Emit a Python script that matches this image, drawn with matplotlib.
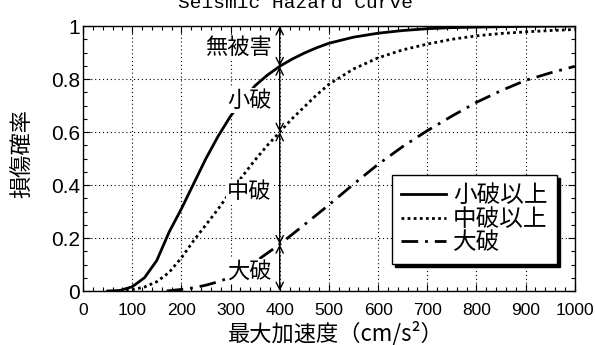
import matplotlib
matplotlib.use("Agg")
import matplotlib.pyplot as plt
from matplotlib.ticker import MultipleLocator

# ---- data ----
pga_small = [50, 75, 100, 125, 150, 175, 200, 225, 250, 275, 300, 325, 350, 375, 400, 425, 450, 475, 500, 550, 600, 650, 700, 750, 800, 900, 1000]
p_small = [0.0, 0.002, 0.016, 0.05, 0.115, 0.222, 0.31, 0.405, 0.5, 0.585, 0.66, 0.72, 0.775, 0.815, 0.848, 0.875, 0.898, 0.918, 0.935, 0.958, 0.973, 0.983, 0.99, 0.994, 0.996, 0.999, 1.0]

pga_mid = [75, 100, 125, 150, 175, 200, 225, 250, 275, 300, 325, 350, 375, 400, 425, 450, 475, 500, 550, 600, 650, 700, 750, 800, 850, 900, 950, 1000]
p_mid = [0.0, 0.005, 0.015, 0.035, 0.07, 0.125, 0.19, 0.25, 0.31, 0.375, 0.435, 0.495, 0.55, 0.6, 0.65, 0.695, 0.74, 0.78, 0.838, 0.88, 0.91, 0.932, 0.95, 0.963, 0.972, 0.978, 0.983, 0.987]

pga_large = [170, 200, 225, 250, 275, 300, 325, 350, 375, 400, 450, 500, 550, 600, 650, 700, 750, 800, 850, 900, 950, 1000]
p_large = [0.0, 0.006, 0.012, 0.022, 0.035, 0.052, 0.08, 0.11, 0.143, 0.176, 0.25, 0.325, 0.403, 0.478, 0.545, 0.605, 0.66, 0.712, 0.756, 0.795, 0.823, 0.848]

series_labels = ["小破以上", "中破以上", "大破"]
x_ticks = list(range(0, 1001, 100))
y_ticks = [0, 0.2, 0.4, 0.6, 0.8, 1]
y_tick_labels = ["0", "0.2", "0.4", "0.6", "0.8", "1"]

ref_x = 400
bounds = [1.0, 0.848, 0.6, 0.176, 0.0]
zone_labels = ["無被害", "小破", "中破", "大破"]
zone_label_y = [0.92, 0.72, 0.375, 0.073]

title = "Seismic Hazard Curve"
xlabel = "最大加速度（cm/s²）"
ylabel = "損傷確率"

jp = ["Noto Sans CJK JP", "DejaVu Sans"]
num = ["Liberation Sans", "DejaVu Sans"]

fig = plt.figure(figsize=(5.95, 3.45), dpi=100)
ax = fig.add_axes([0.1395, 0.1565, 0.8265, 0.768])

ax.plot(pga_small, p_small, color="black", lw=2.0, ls="-", label=series_labels[0], zorder=3)
ax.plot(pga_mid, p_mid, color="black", lw=2.0, ls=(0, (1, 1.2)), label=series_labels[1], zorder=3)
ax.plot(pga_large, p_large, color="black", lw=2.0, ls=(0, (6, 2.5, 1, 2.5)), label=series_labels[2], zorder=3)

ax.set_xlim(0, 1000)
ax.set_ylim(0, 1)
ax.set_xticks(x_ticks)
ax.set_xticklabels([str(v) for v in x_ticks], fontfamily=num, fontsize=12.5)
ax.set_yticks(y_ticks)
ax.set_yticklabels(y_tick_labels, fontfamily=num, fontsize=15)
ax.xaxis.set_minor_locator(MultipleLocator(20))
ax.yaxis.set_minor_locator(MultipleLocator(0.05))
ax.tick_params(which="both", direction="in", top=True, right=True, width=0.8)
ax.tick_params(which="major", length=5)
ax.tick_params(which="minor", length=3)
ax.tick_params(axis="x", pad=8.5)
ax.tick_params(axis="y", pad=2)
ax.grid(True, which="major", color="black", ls=(0, (1, 2.5)), lw=0.8)
for s in ax.spines.values():
    s.set_linewidth(1.0)

# arrows and zone labels
for i in range(4):
    ax.annotate("", xy=(ref_x, bounds[i + 1]), xytext=(ref_x, bounds[i]),
                arrowprops=dict(arrowstyle="<->", color="black", lw=1.0,
                                shrinkA=0, shrinkB=0, mutation_scale=13), zorder=5)
    ax.text(ref_x - 16, zone_label_y[i], zone_labels[i], ha="right", va="center",
            fontfamily=jp, fontsize=16, color="black", zorder=4,
            bbox=dict(boxstyle="square,pad=0.05", fc="white", ec="none"))

leg = ax.legend(loc="upper left", bbox_to_anchor=(0.628, 0.438), borderaxespad=0,
                prop={"family": jp, "size": 17}, frameon=True, fancybox=False,
                shadow={"color": "black", "alpha": 1.0}, edgecolor="black", framealpha=1,
                handlelength=1.9, handletextpad=0.3, labelspacing=0.02, borderpad=0.4)
leg.get_frame().set_linewidth(1.0)
leg.set_zorder(6)

ax.set_xlabel(xlabel, fontfamily=jp, fontsize=16)
ax.xaxis.set_label_coords(0.515, -0.113)
ax.set_ylabel(ylabel, fontfamily=jp, fontsize=16)
ax.yaxis.set_label_coords(-0.10, 0.52)

fig.text(0.497, 0.977, title, ha="center", va="baseline", fontfamily="Liberation Mono", fontsize=14)

fig.savefig("out.png", dpi=100)
